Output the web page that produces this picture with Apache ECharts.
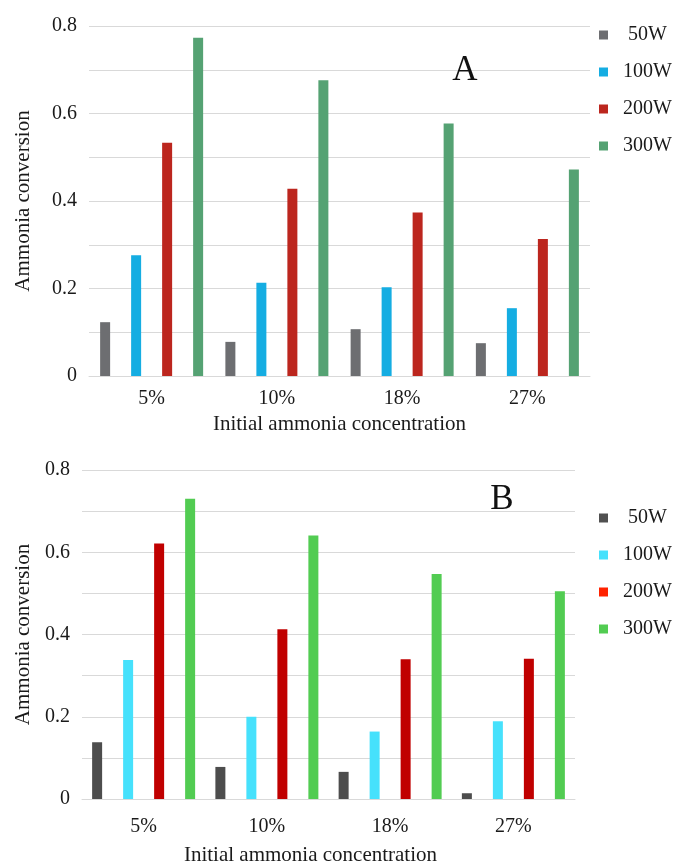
<!DOCTYPE html>
<html>
<head>
<meta charset="utf-8">
<script src="https://cdn.jsdelivr.net/npm/echarts@6/dist/echarts.min.js"></script>
<style>
html,body{margin:0;padding:0;background:#fff;}
#chart{width:673px;height:868px;}
</style>
</head>
<body>
<div id="chart"></div>
<script>
// ---- data ----
var categories = ['5%', '10%', '18%', '27%'];
var seriesNames = [' 50W', '100W', '200W', '300W'];
var yMin = 0, yMax = 0.8, yInterval = 0.2;
var xAxisTitle = 'Initial ammonia concentration';
var yAxisTitle = 'Ammonia conversion';
var panelTitles = ['A', 'B'];

// Panel A
var A_50W  = [0.123, 0.078, 0.107, 0.075];
var A_100W = [0.276, 0.213, 0.203, 0.155];
var A_200W = [0.533, 0.428, 0.374, 0.313];
var A_300W = [0.773, 0.676, 0.577, 0.472];
// Panel B
var B_50W  = [0.138, 0.078, 0.066, 0.014];
var B_100W = [0.338, 0.200, 0.164, 0.189];
var B_200W = [0.621, 0.413, 0.340, 0.341];
var B_300W = [0.730, 0.641, 0.547, 0.505];

// ---- styles ----
var FONT = 'Liberation Serif';
var TXT = '#1a1a1a';
var GRIDC = '#d9d9d9';
var colorsA = ['#6d6e71', '#15ade2', '#bc261e', '#55a273'];
var colorsB = ['#4d4d4d', '#46e1fc', '#c00000', '#52cc52'];
var legendColorsB = ['#505050', '#46e1fc', '#ff2200', '#52cc52'];

var chart = echarts.init(document.getElementById('chart'), null, {renderer: 'canvas'});

function makeX(gridIndex, labelMargin, nameGap, namePad) {
  return {
    type: 'category', gridIndex: gridIndex, data: categories,
    axisLine: {show: true, lineStyle: {color: GRIDC, width: 1}},
    axisTick: {show: false},
    axisLabel: {color: TXT, fontFamily: FONT, fontSize: 20, margin: labelMargin},
    name: xAxisTitle, nameLocation: 'middle', nameGap: nameGap,
    nameTextStyle: {color: TXT, fontFamily: FONT, fontSize: 21, padding: namePad}
  };
}
function makeY(gridIndex, nameGap) {
  return {
    type: 'value', gridIndex: gridIndex, min: yMin, max: yMax, interval: yInterval,
    axisLine: {show: false}, axisTick: {show: false},
    axisLabel: {color: TXT, fontFamily: FONT, fontSize: 20, margin: 12},
    splitLine: {show: true, lineStyle: {color: GRIDC, width: 1}},
    minorTick: {show: false, splitNumber: 2},
    minorSplitLine: {show: true, lineStyle: {color: GRIDC, width: 1}},
    name: yAxisTitle, nameLocation: 'middle', nameGap: nameGap, nameRotate: 90,
    nameTextStyle: {color: TXT, fontFamily: FONT, fontSize: 21}
  };
}
function makeSeries(name, data, color, idx) {
  return {
    type: 'bar', name: name, data: data, xAxisIndex: idx, yAxisIndex: idx,
    barWidth: 10, barGap: '210%',
    itemStyle: {color: color},
    emphasis: {disabled: true}, silent: true
  };
}
function makeLegend(top, cols) {
  return {
    orient: 'vertical', left: 594, top: top, itemWidth: 9, itemHeight: 9, itemGap: 17,
    icon: 'rect', selectedMode: false,
    textStyle: {color: TXT, fontFamily: FONT, fontSize: 20, lineHeight: 20, padding: [0, 0, 0, 10]},
    data: seriesNames.map(function (n, i) { return {name: n, itemStyle: {color: cols[i]}}; })
  };
}

var dataA = [A_50W, A_100W, A_200W, A_300W];
var dataB = [B_50W, B_100W, B_200W, B_300W];
var series = [];
seriesNames.forEach(function (n, i) { series.push(makeSeries(n, dataA[i], colorsA[i], 0)); });
seriesNames.forEach(function (n, i) { series.push(makeSeries(n, dataB[i], colorsB[i], 1)); });

chart.setOption({
  animation: false,
  backgroundColor: '#ffffff',
  title: [
    {text: panelTitles[0], left: 460, top: 48, textAlign: 'center',
     textStyle: {color: '#111', fontFamily: FONT, fontSize: 35, fontWeight: 'normal'}},
    {text: panelTitles[1], left: 497, top: 477, textAlign: 'center',
     textStyle: {color: '#111', fontFamily: FONT, fontSize: 35, fontWeight: 'normal'}}
  ],
  legend: [makeLegend(20, colorsA), makeLegend(503, legendColorsB)],
  grid: [
    {left: 89, right: 83, top: 26, height: 350, containLabel: false},
    {left: 82, right: 98, top: 470, height: 329, containLabel: false}
  ],
  xAxis: [makeX(0, 13, 38, [0, 0, 0, 0]), makeX(1, 18, 46, [0, 36, 0, 0])],
  yAxis: [makeY(0, 55), makeY(1, 48)],
  series: series
});
</script>
</body>
</html>
